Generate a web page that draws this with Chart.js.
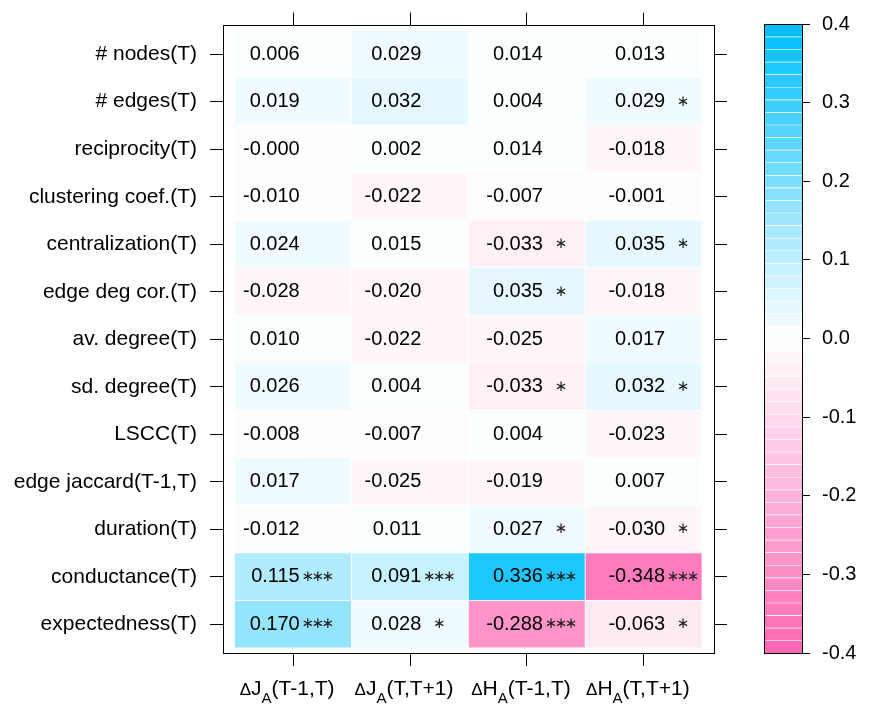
<!DOCTYPE html>
<html>
<head>
<meta charset="utf-8">
<script src="https://cdn.jsdelivr.net/npm/chart.js@4.4.0/dist/chart.umd.min.js"></script>
<style>
    html, body { margin: 0; padding: 0; background: #ffffff; }
    #wrap { position: relative; width: 871px; height: 714px; }
    #heatmap { position: absolute; left: 0; top: 0; }
    #colorkey { position: absolute; left: 740px; top: 0; }
</style>
</head>
<body>
<div id="wrap">
    <canvas id="heatmap" width="871" height="714"></canvas>
    <canvas id="colorkey" width="131" height="714"></canvas>
</div>
<script>
// Correlation heatmap: network features (rows) vs. change measures (columns)
// cells coloured by value on a pink-white-blue scale, stars = significance

const FONT = "'Liberation Sans', Arial, Helvetica, sans-serif";

const ROW_LABELS = [
    "# nodes(T)", "# edges(T)", "reciprocity(T)", "clustering coef.(T)",
    "centralization(T)", "edge deg cor.(T)", "av. degree(T)", "sd. degree(T)",
    "LSCC(T)", "edge jaccard(T-1,T)", "duration(T)", "conductance(T)", "expectedness(T)"
];

// column label = Δ + letter + subscript A + period
const COL_LETTERS = ["J", "J", "H", "H"];
const COL_PERIODS = ["(T-1,T)", "(T,T+1)", "(T-1,T)", "(T,T+1)"];

const DJ_PREV = [0.006, 0.019, -0.0004, -0.010, 0.024, -0.028, 0.010, 0.026, -0.008, 0.017, -0.012, 0.115, 0.170];
const DJ_NEXT = [0.029, 0.032, 0.002, -0.022, 0.015, -0.020, -0.022, 0.004, -0.007, -0.025, 0.011, 0.091, 0.028];
const DH_PREV = [0.014, 0.004, 0.014, -0.007, -0.033, 0.035, -0.025, -0.033, 0.004, -0.019, 0.027, 0.336, -0.288];
const DH_NEXT = [0.013, 0.029, -0.018, -0.001, 0.035, -0.018, 0.017, 0.032, -0.023, 0.007, -0.030, -0.348, -0.063];

const DJ_PREV_STARS = ["", "", "", "", "", "", "", "", "", "", "", "***", "***"];
const DJ_NEXT_STARS = ["", "", "", "", "", "", "", "", "", "", "", "***", "*"];
const DH_PREV_STARS = ["", "", "", "", "*", "*", "", "*", "", "", "*", "***", "***"];
const DH_NEXT_STARS = ["", "*", "", "", "*", "", "", "*", "", "", "*", "***", "*"];

const KEY_TICKS = [-0.4, -0.3, -0.2, -0.1, 0.0, 0.1, 0.2, 0.3, 0.4];

// colour key breaks, like lattice at = seq(-0.4, 0.4, length = 51)
const KEY_BREAKS = [];
for (let k = 0; k <= 50; k++) KEY_BREAKS.push(-0.4 + k * 0.016);

const COLUMNS = [
    { values: DJ_PREV, stars: DJ_PREV_STARS },
    { values: DJ_NEXT, stars: DJ_NEXT_STARS },
    { values: DH_PREV, stars: DH_PREV_STARS },
    { values: DH_NEXT, stars: DH_NEXT_STARS }
];

// where the number ends inside each cell (in column units), stars follow it
const NUMBER_ANCHOR = [0.556, 0.596, 0.637, 0.682];

const PINK = [255, 105, 180];   // hotpink
const BLUE = [0, 191, 255];     // deepskyblue

function rampColor(t) {
    const target = t < 0.5 ? PINK : BLUE;
    const f = t < 0.5 ? 1 - t * 2 : t * 2 - 1;
    const c = target.map((v) => Math.round(255 + (v - 255) * f));
    return `rgb(${c[0]},${c[1]},${c[2]})`;
}

function binIndex(v) {
    const nBins = KEY_BREAKS.length - 1;
    const step = (KEY_BREAKS[nBins] - KEY_BREAKS[0]) / nBins;
    const k = Math.floor((v - KEY_BREAKS[0]) / step);
    return Math.max(0, Math.min(nBins - 1, k));
}

function binColor(k) {
    return rampColor(k / (KEY_BREAKS.length - 2));
}

// ---------- heatmap ----------

const tickGrid = {
    display: true, drawOnChartArea: false, drawTicks: true, offset: false,
    tickLength: 13, color: "#000000", lineWidth: 1
};
const frame = { display: true, color: "#000000", width: 1 };
const rowTicks = (scale) => { scale.ticks = ROW_LABELS.map((_, i) => ({ value: i + 0.5 })); };
const colTicks = (scale) => { scale.ticks = COL_LETTERS.map((_, i) => ({ value: i + 0.5 })); };

const cellTextPlugin = {
    id: "cellText",
    afterDatasetsDraw(chart) {
        const { ctx } = chart;
        const x = chart.scales.x;
        const y = chart.scales.y;
        ctx.save();
        ctx.fillStyle = "#000000";
        COLUMNS.forEach((col, c) => {
            const right = x.getPixelForValue(c + NUMBER_ANCHOR[c]);
            col.values.forEach((v, i) => {
                const base = y.getPixelForValue(i + 0.5) + 5.5;
                ctx.font = `20px ${FONT}`;
                ctx.fillStyle = "#000000";
                ctx.textAlign = "right";
                ctx.fillText(v.toFixed(3), right, base);
                const n = col.stars[i].length;
                const offsets = n === 3 ? [8, 18, 28] : n === 2 ? [13, 23] : n === 1 ? [18] : [];
                ctx.font = "15px 'DejaVu Sans', sans-serif";
                ctx.fillStyle = "#222222";
                ctx.textAlign = "center";
                offsets.forEach((dx) => ctx.fillText("\u2217", right + dx, base - 1.5));
            });
        });
        ctx.restore();
    },
    afterDraw(chart) {
        const { ctx } = chart;
        const x = chart.scales.x;
        const base = 695;
        ctx.save();
        ctx.fillStyle = "#000000";
        ctx.textAlign = "left";
        const big = `21px ${FONT}`;
        const mid = `17px ${FONT}`;
        const small = `15px ${FONT}`;
        COL_LETTERS.forEach((letter, c) => {
            const parts = [
                { text: "\u0394", font: mid, dy: 0 },
                { text: letter, font: big, dy: 0 },
                { text: "A", font: small, dy: 8 },
                { text: COL_PERIODS[c], font: big, dy: 0 }
            ];
            let total = 0;
            parts.forEach((p) => { ctx.font = p.font; p.w = ctx.measureText(p.text).width; total += p.w; });
            let px = x.getPixelForValue(c + 0.5) - 6 - total / 2;
            parts.forEach((p) => {
                ctx.font = p.font;
                ctx.fillText(p.text, px, base + p.dy);
                px += p.w;
            });
        });
        ctx.restore();
    }
};

new Chart(document.getElementById("heatmap"), {
    type: "bar",
    data: {
        datasets: COLUMNS.map((col, c) => ({
            data: col.values.map((v, i) => ({ x: [c, c + 1], y: i + 0.5 })),
            backgroundColor: col.values.map((v) => binColor(binIndex(v))),
            borderColor: "rgba(255,255,255,0.6)",
            borderWidth: { top: 0, left: 0, right: 1, bottom: 1 },
            borderSkipped: false,
            barPercentage: 1,
            categoryPercentage: 1,
            grouped: false
        }))
    },
    options: {
        indexAxis: "y",
        responsive: false,
        animation: false,
        events: [],
        plugins: { legend: { display: false }, tooltip: { enabled: false } },
        scales: {
            x: {
                type: "linear", position: "bottom", min: -0.1, max: 4.1, offset: false,
                afterBuildTicks: colTicks, grid: tickGrid, border: frame,
                ticks: { display: false, autoSkip: false },
                afterFit: (s) => { s.height = 61; }
            },
            xTop: {
                type: "linear", position: "top", min: -0.1, max: 4.1, offset: false,
                afterBuildTicks: colTicks, grid: tickGrid, border: frame,
                ticks: { display: false, autoSkip: false },
                afterFit: (s) => { s.height = 15; }
            },
            y: {
                type: "linear", position: "left", min: -0.1, max: 13.1, reverse: true, offset: false,
                afterBuildTicks: rowTicks, grid: tickGrid, border: frame,
                ticks: {
                    autoSkip: false, color: "#000000", padding: 13,
                    font: { family: FONT, size: 21 },
                    callback: (value, index) => ROW_LABELS[index]
                },
                afterFit: (s) => { s.width = 223; }
            },
            yRight: {
                type: "linear", position: "right", min: -0.1, max: 13.1, reverse: true, offset: false,
                afterBuildTicks: rowTicks, grid: tickGrid, border: frame,
                ticks: { display: false, autoSkip: false },
                afterFit: (s) => { s.width = 157; }
            }
        }
    },
    plugins: [cellTextPlugin]
});

// ---------- colour key ----------

const keyFrame = { display: true, color: "#000000", width: 1, z: 1 };
const noGrid = { display: false, offset: false };

new Chart(document.getElementById("colorkey"), {
    type: "bar",
    data: {
        datasets: [{
            data: KEY_BREAKS.slice(0, -1).map((b, k) => ({ x: [0, 1], y: (b + KEY_BREAKS[k + 1]) / 2 })),
            backgroundColor: KEY_BREAKS.slice(0, -1).map((b, k) => binColor(k)),
            borderColor: "#ffffff",
            borderWidth: { top: 1, left: 0, right: 0, bottom: 0 },
            borderSkipped: false,
            barPercentage: 1,
            categoryPercentage: 1,
            grouped: false
        }]
    },
    options: {
        indexAxis: "y",
        responsive: false,
        animation: false,
        events: [],
        plugins: { legend: { display: false }, tooltip: { enabled: false } },
        scales: {
            x: {
                type: "linear", position: "bottom", min: 0, max: 1, offset: false,
                grid: noGrid, border: keyFrame, ticks: { display: false },
                afterFit: (s) => { s.height = 61; }
            },
            xTop: {
                type: "linear", position: "top", min: 0, max: 1, offset: false,
                grid: noGrid, border: keyFrame, ticks: { display: false },
                afterFit: (s) => { s.height = 15; }
            },
            yLeft: {
                type: "linear", position: "left", min: -0.4, max: 0.4, offset: false,
                grid: noGrid, border: keyFrame, ticks: { display: false },
                afterFit: (s) => { s.width = 24; }
            },
            y: {
                type: "linear", position: "right", min: -0.4, max: 0.4, offset: false,
                afterBuildTicks: (scale) => { scale.ticks = KEY_TICKS.map((v) => ({ value: v })); },
                grid: { display: true, drawOnChartArea: false, drawTicks: true, offset: false, tickLength: 8, color: "#000000", lineWidth: 1 },
                border: keyFrame,
                ticks: {
                    autoSkip: false, color: "#000000", padding: 12,
                    font: { family: FONT, size: 20 },
                    callback: (value, index) => KEY_TICKS[index].toFixed(1)
                },
                afterFit: (s) => { s.width = 69; }
            }
        }
    }
});
</script>
</body>
</html>
